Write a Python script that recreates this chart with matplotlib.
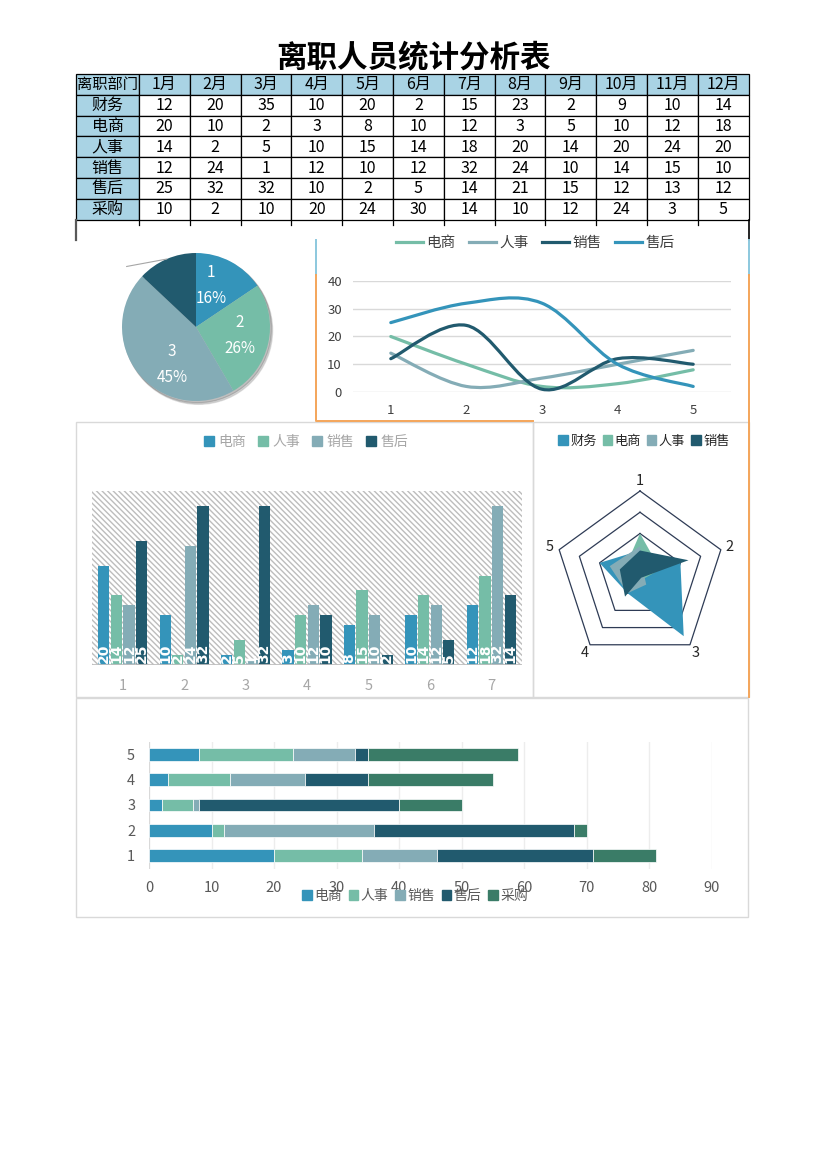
import numpy as np
import matplotlib
matplotlib.use("Agg")
import matplotlib.pyplot as plt
from matplotlib.patches import Rectangle, Circle, PathPatch, Patch
from matplotlib.lines import Line2D
from matplotlib.path import Path

plt.rcParams["font.family"] = ["Noto Sans CJK SC", "DejaVu Sans"]
plt.rcParams["hatch.linewidth"] = 1.0

# ------------------------- DATA -------------------------------------------- #
months = [f"{m}月" for m in range(1, 13)]
depts = ["财务", "电商", "人事", "销售", "售后", "采购"]
finance   = [12, 20, 35, 10, 20, 2, 15, 23, 2, 9, 10, 14]
ecommerce = [20, 10, 2, 3, 8, 10, 12, 3, 5, 10, 12, 18]
hr        = [14, 2, 5, 10, 15, 14, 18, 20, 14, 20, 24, 20]
sales     = [12, 24, 1, 12, 10, 12, 32, 24, 10, 14, 15, 10]
service   = [25, 32, 32, 10, 2, 5, 14, 21, 15, 12, 13, 12]
purchase  = [10, 2, 10, 20, 24, 30, 14, 10, 12, 24, 3, 5]
table_rows = [finance, ecommerce, hr, sales, service, purchase]

pie_cats = ["1", "2", "3", "4"]
line_cats = [1, 2, 3, 4, 5]
bar_cats = [1, 2, 3, 4, 5, 6, 7]
radar_cats = ["1", "2", "3", "4", "5"]
stack_cats = [1, 2, 3, 4, 5]

# ------------------------- STYLE ------------------------------------------- #
BLUE, GREEN, GREY, DARK, DGREEN = "#3494BA", "#75BDA7", "#84ACB6", "#215A6E", "#3A7C67"
HEADER = "#A9D3E4"
W, H = 827, 1170

fig = plt.figure(figsize=(W / 100, H / 100), dpi=100)


def px_axes(x0, y0, x1, y1, **kw):
    return fig.add_axes([x0 / W, 1 - y1 / H, (x1 - x0) / W, (y1 - y0) / H], **kw)


def smooth_path(xs, ys):
    # excel-like smoothed line: cubic bezier through the points
    pts = np.column_stack([xs, ys]).astype(float)
    n = len(pts)
    verts, codes = [pts[0]], [Path.MOVETO]
    for i in range(n - 1):
        p0, p1 = pts[max(i - 1, 0)], pts[i]
        p2, p3 = pts[i + 1], pts[min(i + 2, n - 1)]
        verts += [p1 + (p2 - p0) / 6, p2 - (p3 - p1) / 6, p2]
        codes += [Path.CURVE4] * 3
    return Path(verts, codes)


# ------------------------- BASE (title, table, frames) --------------------- #
base = px_axes(0, 0, W, H)
base.set_xlim(0, W)
base.set_ylim(H, 0)
base.axis("off")

base.text(413, 57, "离职人员统计分析表", ha="center", va="center",
          fontsize=22, fontweight="bold", color="black")

col_edges = [76, 139] + list(139 + 50.8 * np.arange(1, 13))
row_edges = 74 + 20.8 * np.arange(8)
cells = [["离职部门"] + months] + [[d] + [str(v) for v in row] for d, row in zip(depts, table_rows)]
for r, row in enumerate(cells):
    for c, txt in enumerate(row):
        x0, x1 = col_edges[c], col_edges[c + 1]
        y0, y1 = row_edges[r], row_edges[r + 1]
        fc = HEADER if (r == 0 or c == 0) else "white"
        base.add_patch(Rectangle((x0, y0), x1 - x0, y1 - y0, fc=fc, ec="black", lw=0.9))
        base.text((x0 + x1) / 2, (y0 + y1) / 2 + 0.5, txt, ha="center", va="center",
                  fontsize=11 if (r == 0 and c == 0) else 11.5, color="black")

# leftovers of the sheet grid below the table
for x in col_edges[1:-1]:
    base.plot([x, x], [row_edges[-1], row_edges[-1] + 5], color="black", lw=0.9)
base.plot([76, 76], [row_edges[-1], 240], color="#595959", lw=1.6)
base.plot([749, 749], [row_edges[-1], 240], color="black", lw=1.2)

# chart frames
for (x0, y0, x1, y1) in [(76, 422, 533, 697), (533, 422, 749, 697), (76, 698, 748, 917)]:
    base.add_patch(Rectangle((x0, y0), x1 - x0, y1 - y0, fc="none", ec="#D9D9D9", lw=1))
base.plot([316, 316], [240, 275], color="#8CC8DE", lw=1.4)
base.plot([749, 749], [240, 275], color="#8CC8DE", lw=1.4)
base.plot([316, 316, 533], [275, 421, 421], color="#F4A55A", lw=1.4)
base.plot([749, 749], [275, 697], color="#F4A55A", lw=1.4)

# ------------------------- PIE --------------------------------------------- #
ax_pie = px_axes(116, 247, 276, 407)
ax_pie.add_patch(Circle((0.035, -0.045), 1.0, color="black", alpha=0.12, zorder=0))
ax_pie.add_patch(Circle((0.02, -0.025), 1.0, color="black", alpha=0.15, zorder=0))
wedges, _ = ax_pie.pie(finance[:4], colors=[BLUE, GREEN, GREY, DARK], startangle=90,
                       counterclock=False, radius=1, wedgeprops=dict(linewidth=0, zorder=1))
lim = 80 / 74
ax_pie.set_xlim(-lim, lim)
ax_pie.set_ylim(-lim, lim)
ax_pie.set_aspect("equal")
total = sum(finance[:4])
shift = [8, 2, 19]   # excel nudges its labels a little
for i, w in enumerate(wedges[:3]):
    a = np.deg2rad((w.theta1 + w.theta2) / 2 + shift[i])
    ax_pie.text(0.6 * np.cos(a), 0.6 * np.sin(a),
                f"{pie_cats[i]}\n{finance[i] / total * 100:.0f}%",
                ha="center", va="center", color="white", fontsize=11, linespacing=1.7)
a4 = np.deg2rad((wedges[3].theta1 + wedges[3].theta2) / 2)
sx, sy = np.cos(a4), np.sin(a4)
ax_pie.plot([sx, sx - 0.54], [sy, sy - 0.1], color="#A6A6A6", lw=0.8, clip_on=False)

# ------------------------- LINE -------------------------------------------- #
ax_line = px_axes(353, 281, 731, 392)
line_series = [("电商", ecommerce, GREEN), ("人事", hr, GREY), ("销售", sales, DARK), ("售后", service, BLUE)]
for name, vals, col in line_series:
    ax_line.add_patch(PathPatch(smooth_path(line_cats, vals[:5]), fill=False,
                                edgecolor=col, lw=2.3, capstyle="round", zorder=3))
ax_line.set_xlim(0.5, 5.5)
ax_line.set_ylim(0, 40)
ax_line.set_yticks([0, 10, 20, 30, 40])
ax_line.set_xticks(line_cats)
ax_line.grid(axis="y", color="#D9D9D9", lw=1)
ax_line.set_axisbelow(True)
for s in ax_line.spines.values():
    s.set_visible(False)
ax_line.tick_params(length=0, labelsize=9.5, colors="#404040")
ax_line.tick_params(axis="y", pad=8)
ax_line.tick_params(axis="x", pad=9)
fig.legend([Line2D([], [], color=c, lw=2.3) for _, _, c in line_series],
           [n for n, _, _ in line_series], loc="center", ncol=4,
           bbox_to_anchor=(535 / W, 1 - 243 / H), frameon=False, fontsize=10.5,
           handlelength=1.9, handletextpad=0.2, columnspacing=0.9, labelcolor="#404040")

# ------------------------- CLUSTERED BARS ---------------------------------- #
ax_bar = px_axes(92, 491, 522, 665)
ax_bar.patch.set_visible(False)
ax_bar.add_patch(Rectangle((0, 0), 1, 1, transform=ax_bar.transAxes, facecolor="white",
                           edgecolor="#BDBDBD", hatch="\\" * 6, lw=0, zorder=0))
bar_series = [("电商", ecommerce, BLUE), ("人事", hr, GREEN), ("销售", sales, GREY), ("售后", service, DARK)]
bw, step = 0.184, 0.205
for k, (name, vals, col) in enumerate(bar_series):
    xs = np.array(bar_cats) + (k - 1.5) * step
    v = vals[:7]
    ax_bar.bar(xs, v, width=bw, color=col, zorder=2)
    for x, val in zip(xs, v):
        ax_bar.text(x, 0.5, str(val), rotation=90, ha="center", va="bottom", color="white",
                    fontsize=10, fontweight="bold", family="DejaVu Sans", zorder=3)
ax_bar.axhline(0, color="#BFBFBF", lw=2, zorder=3)
ax_bar.set_xlim(0.5, 7.5)
ax_bar.set_ylim(0, 35)
ax_bar.set_yticks([])
ax_bar.set_xticks(bar_cats)
for s in ax_bar.spines.values():
    s.set_visible(False)
ax_bar.tick_params(length=0, labelsize=10.5, colors="#A6A6A6", pad=10)
fig.legend([Patch(color=c) for _, _, c in bar_series], [n for n, _, _ in bar_series],
           loc="center", ncol=4, bbox_to_anchor=(306 / W, 1 - 442 / H), frameon=False,
           fontsize=10, handlelength=0.7, handleheight=0.7, handletextpad=0.3,
           columnspacing=0.9, labelcolor="#A6A6A6")

# ------------------------- RADAR ------------------------------------------- #
ax_rad = px_axes(530, 466, 750, 686)
rlim = 110 / 85 * 40
ax_rad.set_xlim(-rlim, rlim)
ax_rad.set_ylim(-rlim, rlim)
ax_rad.set_aspect("equal")
ax_rad.axis("off")
ang = np.pi / 2 - 2 * np.pi * np.arange(len(radar_cats)) / len(radar_cats)
ang_c = np.append(ang, ang[0])
for r in [10, 20, 30, 40]:
    ax_rad.plot(r * np.cos(ang_c), r * np.sin(ang_c), color="#2E3B55", lw=0.9, zorder=1)
radar_series = [("财务", finance, BLUE), ("电商", ecommerce, GREEN), ("人事", hr, GREY), ("销售", sales, DARK)]
for z, (name, vals, col) in enumerate(radar_series):
    v = np.array(vals[:5] + vals[:1], dtype=float)
    ax_rad.fill(v * np.cos(ang_c), v * np.sin(ang_c), color=col, lw=0, zorder=2 + z)
for a, lab in zip(ang, radar_cats):
    ax_rad.text(44.5 * np.cos(a), 44.5 * np.sin(a), lab, ha="center", va="center",
                fontsize=10.5, color="#262626")
fig.legend([Patch(color=c) for _, _, c in radar_series], [n for n, _, _ in radar_series],
           loc="center", ncol=4, bbox_to_anchor=(644 / W, 1 - 441 / H), frameon=False,
           fontsize=9.5, handlelength=0.7, handleheight=0.7, handletextpad=0.2,
           columnspacing=0.45, labelcolor="#262626")

# ------------------------- STACKED BARS ------------------------------------ #
ax_st = px_axes(149, 741.5, 712, 868.5)
stack_series = [("电商", ecommerce, BLUE), ("人事", hr, GREEN), ("销售", sales, GREY),
                ("售后", service, DARK), ("采购", purchase, DGREEN)]
left = np.zeros(len(stack_cats))
for name, vals, col in stack_series:
    v = np.array(vals[:5])
    ax_st.barh(stack_cats, v, left=left, height=0.5, color=col, edgecolor="white", lw=0.5, zorder=2)
    left += v
ax_st.set_xlim(0, 90)
ax_st.set_ylim(0.5, 5.5)
ax_st.set_xticks(range(0, 91, 10))
ax_st.set_yticks(stack_cats)
ax_st.grid(axis="x", color="#EDEDED", lw=1)
ax_st.set_axisbelow(True)
for s in ax_st.spines.values():
    s.set_visible(False)
ax_st.axvline(0, color="#D9D9D9", lw=1.5, zorder=1)
ax_st.tick_params(length=0, labelsize=10.5, colors="#595959")
ax_st.tick_params(axis="y", pad=10)
ax_st.tick_params(axis="x", pad=9)
fig.legend([Patch(color=c) for _, _, c in stack_series], [n for n, _, _ in stack_series],
           loc="center", ncol=5, bbox_to_anchor=(415 / W, 1 - 896 / H), frameon=False,
           fontsize=10, handlelength=0.7, handleheight=0.7, handletextpad=0.15,
           columnspacing=0.5, labelcolor="#595959")

fig.savefig("out.png", dpi=100)
